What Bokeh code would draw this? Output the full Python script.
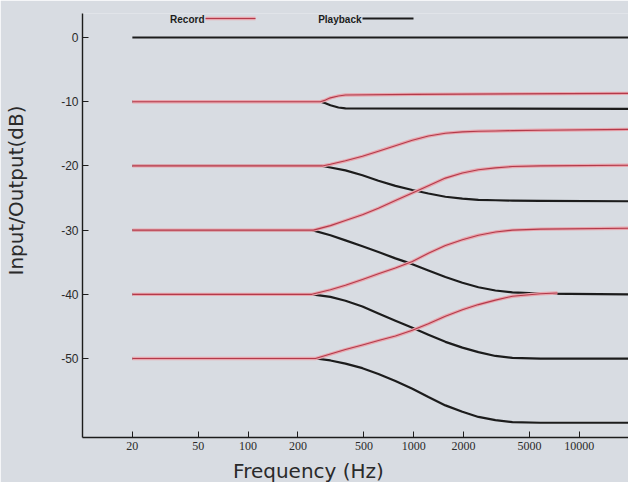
from bokeh.plotting import figure
from bokeh.models import FixedTicker, Label, Arrow, Range1d, PrintfTickFormatter
from bokeh.embed import file_html
from bokeh.resources import INLINE

# ---------------- data ----------------
x_ticks = [20, 50, 100, 200, 500, 1000, 2000, 5000, 10000]
y_ticks = [0, -10, -20, -30, -40, -50]

# 0 dB input: unchanged
flat0_hz = [20, 19780]
flat0_db = [0, 0]

# -10 dB input
rec10_hz = [20, 273, 293, 314, 351, 387, 1000, 19780]
rec10_db = [-10, -10, -9.75, -9.4, -9.1, -8.95, -8.85, -8.7]
pb10_hz = [20, 273, 293, 314, 351, 387, 19780]
pb10_db = [-10, -10, -10.25, -10.55, -10.9, -11.05, -11.1]

# -20 dB input
rec20_hz = [20, 281, 314, 387, 490, 612, 775, 981, 1226, 1553, 1967, 2457, 3112, 3942, 5818, 19780]
rec20_db = [-20, -20, -19.75, -19.2, -18.5, -17.7, -16.85, -16.0, -15.35, -14.9, -14.7, -14.6, -14.55, -14.5, -14.45, -14.3]
pb20_hz = [20, 281, 314, 387, 490, 612, 775, 981, 1226, 1553, 1967, 2457, 3112, 3942, 5818, 19780]
pb20_db = [-20, -20, -20.25, -20.7, -21.45, -22.3, -23.1, -23.75, -24.3, -24.8, -25.1, -25.3, -25.35, -25.4, -25.45, -25.5]

# -30 dB input
rec30_hz = [20, 248, 314, 387, 490, 612, 775, 981, 1226, 1553, 1967, 2457, 3112, 3942, 5818, 19780]
rec30_db = [-30, -30, -29.3, -28.5, -27.6, -26.6, -25.4, -24.2, -23.1, -21.9, -21.1, -20.6, -20.3, -20.1, -20.0, -19.9]
pb30_hz = [20, 243, 314, 387, 490, 612, 775, 981, 1226, 1553, 1967, 2457, 3112, 3942, 5818, 19780]
pb30_db = [-30, -30, -30.8, -31.6, -32.5, -33.4, -34.4, -35.3, -36.3, -37.3, -38.2, -38.9, -39.4, -39.7, -39.9, -40.0]

# -40 dB input
rec40_hz = [20, 243, 314, 387, 490, 612, 775, 981, 1226, 1553, 1967, 2457, 3112, 3942, 5818, 19780]
rec40_db = [-40, -40, -39.3, -38.6, -37.7, -36.8, -35.9, -34.9, -33.6, -32.4, -31.5, -30.8, -30.3, -30.0, -29.85, -29.7]
pb40_hz = [20, 243, 314, 387, 490, 612, 775, 981, 1226, 1553, 1967, 2457, 3112, 3942, 5818, 19780]
pb40_db = [-40, -40, -40.4, -41.0, -41.9, -43.0, -44.1, -45.2, -46.3, -47.4, -48.3, -49.0, -49.6, -49.9, -50.0, -50.0]

# -50 dB input
rec50_hz = [20, 255, 314, 387, 490, 612, 775, 981, 1226, 1553, 1967, 2457, 3112, 3942, 5818, 7370]
rec50_db = [-50, -50, -49.3, -48.6, -47.9, -47.2, -46.5, -45.6, -44.6, -43.4, -42.4, -41.6, -40.9, -40.3, -39.9, -39.8]
pb50_hz = [20, 255, 314, 387, 490, 612, 775, 981, 1226, 1553, 1967, 2457, 3112, 3942, 5818, 19780]
pb50_db = [-50, -50, -50.3, -50.8, -51.5, -52.4, -53.5, -54.7, -56.0, -57.3, -58.3, -59.1, -59.6, -59.9, -60.0, -60.0]

playback_curves = [(flat0_hz, flat0_db), (pb10_hz, pb10_db), (pb20_hz, pb20_db),
                   (pb30_hz, pb30_db), (pb40_hz, pb40_db), (pb50_hz, pb50_db)]
record_curves = [(rec10_hz, rec10_db), (rec20_hz, rec20_db), (rec30_hz, rec30_db),
                 (rec40_hz, rec40_db), (rec50_hz, rec50_db)]

# ---------------- styling ----------------
BG = "#d8dce2"
INK = "#1c1c1c"
RED_HALO = "#e8a6ae"
RED_CORE = "#b33a4a"

p = figure(width=628, height=482, x_axis_type="log",
           x_range=Range1d(10, 19800), y_range=Range1d(-62.3, 3.74),
           output_backend="svg", toolbar_location=None,
           min_border_left=82, min_border_right=0,
           min_border_top=13, min_border_bottom=45)
p.background_fill_color = BG
p.border_fill_color = BG
p.outline_line_color = None
p.grid.visible = False

for hz, db in playback_curves:
    p.line(hz, db, line_color=INK, line_width=2.2, line_join="round")
for hz, db in record_curves:
    p.line(hz, db, line_color=RED_HALO, line_width=3.4, line_join="round")
    p.line(hz, db, line_color=RED_CORE, line_width=1.1, line_join="round")

# axes
xa = p.xaxis[0]
xa.ticker = FixedTicker(ticks=x_ticks)
xa.formatter = PrintfTickFormatter(format="%d")
xa.minor_tick_line_color = None
xa.major_tick_in = 6
xa.major_tick_out = 0
xa.major_label_standoff = 4
xa.major_label_text_font = "Liberation Serif"
xa.major_label_text_font_size = "12px"
xa.major_label_text_color = "#2a2a2a"
xa.axis_line_color = INK
xa.axis_line_width = 1.4
xa.major_tick_line_color = INK

ya = p.yaxis[0]
ya.ticker = FixedTicker(ticks=y_ticks)
ya.formatter = PrintfTickFormatter(format="%d")
ya.minor_tick_line_color = None
ya.major_tick_in = 6
ya.major_tick_out = 0
ya.major_label_standoff = 4
ya.major_label_text_font = "Liberation Sans"
ya.major_label_text_font_size = "12px"
ya.major_label_text_color = "#2a2a2a"
ya.axis_line_color = INK
ya.axis_line_width = 1.4
ya.major_tick_line_color = INK

# axis titles, placed in the side panels
p.add_layout(Label(x=-19, y=247, x_units="screen", y_units="screen",
                   text="Input/Output(dB)", angle=90, angle_units="deg",
                   text_align="center", text_baseline="middle",
                   text_font="DejaVu Sans", text_font_size="20px",
                   text_color="#2a2a2a"), "left")
p.add_layout(Label(x=226, y=6, x_units="screen", y_units="screen",
                   text="Frequency (Hz)", text_align="center",
                   text_baseline="middle", text_font="DejaVu Sans",
                   text_font_size="20px", text_color="#2a2a2a"), "below")

# legend (label followed by line sample)
p.add_layout(Label(x=122, y=418, x_units="screen", y_units="screen",
                   text="Record", text_align="right", text_baseline="middle",
                   text_font="Liberation Sans", text_font_style="bold",
                   text_font_size="10px", text_color=INK))
p.add_layout(Arrow(end=None, x_start=123, y_start=419, x_end=173, y_end=419,
                   start_units="screen", end_units="screen",
                   line_color=RED_HALO, line_width=3.4))
p.add_layout(Arrow(end=None, x_start=123, y_start=419, x_end=173, y_end=419,
                   start_units="screen", end_units="screen",
                   line_color=RED_CORE, line_width=1.1))
p.add_layout(Label(x=279, y=418, x_units="screen", y_units="screen",
                   text="Playback", text_align="right", text_baseline="middle",
                   text_font="Liberation Sans", text_font_style="bold",
                   text_font_size="10px", text_color=INK))
p.add_layout(Arrow(end=None, x_start=280, y_start=419, x_end=331, y_end=419,
                   start_units="screen", end_units="screen",
                   line_color=INK, line_width=2.2))

open("out.html", "w").write(file_html(p, INLINE))
